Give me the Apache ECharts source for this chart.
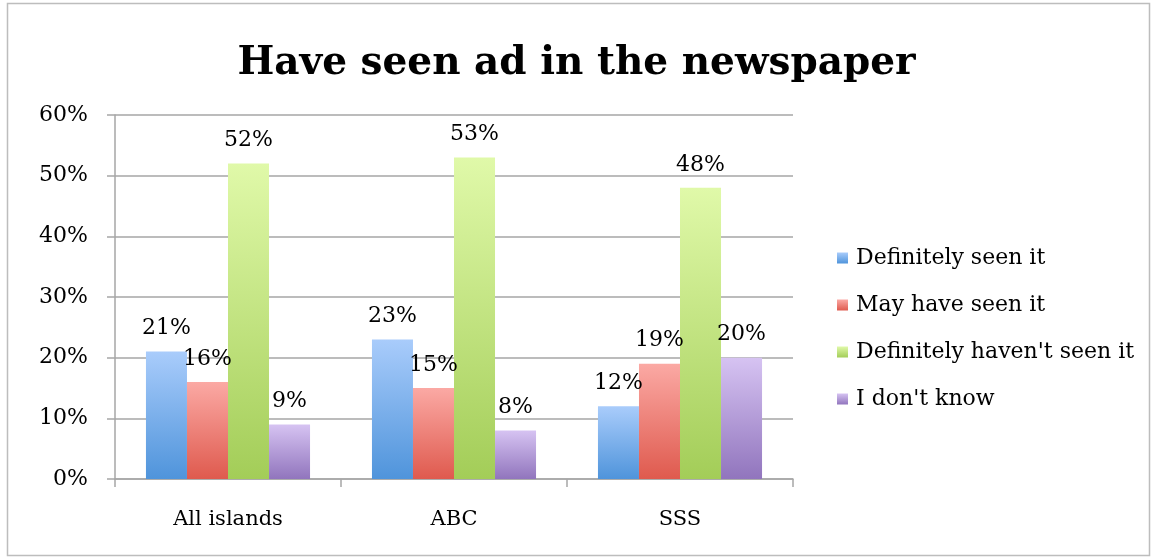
<!DOCTYPE html>
<html><head><meta charset="utf-8">
<script src="https://cdn.jsdelivr.net/npm/echarts@6/dist/echarts.min.js"></script>
<style>html,body{margin:0;padding:0;background:#fff}#c{width:1153px;height:558px}</style>
</head><body><div id="c"></div>
<script>
const categories = ['All islands', 'ABC', 'SSS'];
const seriesNames = ['Definitely seen it', 'May have seen it', "Definitely haven't seen it", "I don't know"];
const definitelySeen = [21, 23, 12];
const mayHaveSeen = [16, 15, 19];
const definitelyNotSeen = [52, 53, 48];
const dontKnow = [9, 8, 20];
const yTicks = [0, 10, 20, 30, 40, 50, 60];

const values = [definitelySeen, mayHaveSeen, definitelyNotSeen, dontKnow];
const grads = [['#a9ccfb', '#4f94db'], ['#fba9a4', '#df5a4e'], ['#e0f9a9', '#a3cd58'], ['#d6c3f2', '#9175bd']];
const FONT = 'DejaVu Serif';

const chart = echarts.init(document.getElementById('c'));
chart.setOption({
  animation: false,
  title: {
    text: 'Have seen ad in the newspaper', left: 'center', top: 39,
    textStyle: { fontFamily: FONT, fontWeight: 'bold', fontSize: 39, color: '#000' }
  },
  graphic: [{ type: 'rect', shape: { x: 7.5, y: 3.5, width: 1142, height: 552 }, style: { fill: 'none', stroke: '#bdbdbd', lineWidth: 1.5 }, silent: true }],
  legend: {
    orient: 'vertical', left: 832, top: 242, itemGap: 25, itemWidth: 11, itemHeight: 11,
    icon: 'rect',
    textStyle: { fontFamily: FONT, fontSize: 22, color: '#000', padding: [0, 0, 0, 3] },
    data: seriesNames
  },
  grid: { left: 115, right: 360, top: 115, bottom: 79, containLabel: false },
  xAxis: {
    type: 'category', data: categories,
    axisLine: { lineStyle: { color: '#a6a6a6', width: 1.5 } },
    axisTick: { show: true, length: 8, lineStyle: { color: '#a6a6a6', width: 1.5 } },
    axisLabel: { fontFamily: FONT, fontSize: 21, color: '#000', margin: 30 }
  },
  yAxis: {
    type: 'value', min: 0, max: 60, interval: 10,
    axisLine: { show: true, lineStyle: { color: '#a6a6a6', width: 1.5 } },
    axisTick: { show: true, length: 8, lineStyle: { color: '#a6a6a6', width: 1.5 } },
    splitLine: { lineStyle: { color: '#a6a6a6', width: 1.5 } },
    axisLabel: { fontFamily: FONT, fontSize: 22, color: '#000', margin: 27, formatter: v => yTicks.includes(v) ? v + '%' : '' }
  },
  series: values.map((vals, i) => ({
    name: seriesNames[i], type: 'bar', data: vals,
    barGap: '0%', barCategoryGap: '27.4%',
    itemStyle: { color: new echarts.graphic.LinearGradient(0, 0, 0, 1, [{ offset: 0, color: grads[i][0] }, { offset: 1, color: grads[i][1] }]) },
    label: { show: true, position: 'top', distance: 12, fontFamily: FONT, fontSize: 22, color: '#000', formatter: p => p.value + '%' }
  }))
});
</script></body></html>
